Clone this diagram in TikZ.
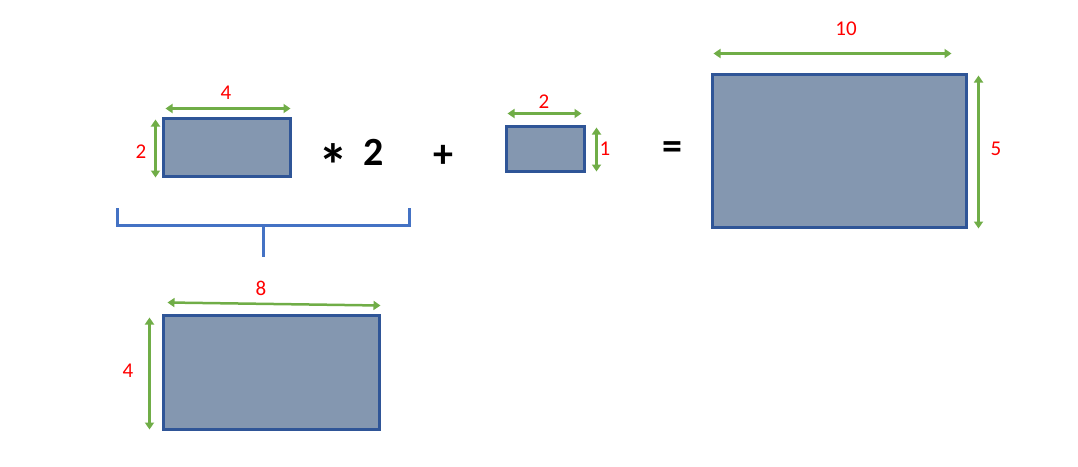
\documentclass[tikz,border=0pt]{standalone}
\usepackage{fontspec}
\setmainfont{Carlito}
\usetikzlibrary{arrows.meta}

\definecolor{boxfill}{HTML}{8497B0}
\definecolor{boxline}{HTML}{2F5597}
\definecolor{dimgreen}{HTML}{70AD47}
\definecolor{bracketblue}{HTML}{4472C4}

\begin{document}
\begin{tikzpicture}[x=1pt, y=-1pt,
  block/.style={draw=boxline, fill=boxfill, line width=3.5pt, rectangle, inner sep=0pt, outer sep=0pt},
  dim/.style={dimgreen, line width=2.5pt, {Triangle[width=9pt,length=7pt]}-{Triangle[width=9pt,length=7pt]}},
  dimlabel/.style={red, font=\fontsize{21}{25}\selectfont, inner sep=0pt},
  op/.style={font=\fontsize{40}{48}\selectfont\bfseries, inner sep=0pt},
  bracket/.style={draw=bracketblue, line width=3pt}]
\useasboundingbox (0,0) rectangle (1078,466);

% rectangles
\node (small) [block, minimum width=127pt, minimum height=58pt] at (227,147.5) {};
\node (unit) [block, minimum width=78pt, minimum height=45pt] at (545.5,149) {};
\node (result) [block, minimum width=254pt, minimum height=153pt] at (839.5,151) {};
\node (double) [block, minimum width=216pt, minimum height=114pt] at (271.5,372.5) {};

% operators
\node (times) [op, font=\fontsize{60}{70}\selectfont\bfseries] at (333,165) {*};
\node (factor) [op] at (374,152.5) {2};
\node (plus) [op] at (443,156) {+};
\node (equals) [op] at (672,151) {=};

% dimension arrows
\draw[dim] ([shift={(2,-10)}]small.north west) -- ([shift={(0,-10)}]small.north east);
\draw[dim] ([shift={(-8,1)}]small.north west) -- ([shift={(-8,1)}]small.south west);
\draw[dim] ([shift={(1,-13)}]unit.north west) -- ([shift={(-3,-13)}]unit.north east);
\draw[dim] ([shift={(12,1)}]unit.north east) -- ([shift={(12,0)}]unit.south east);
\draw[dim] ([shift={(1,-21)}]result.north west) -- ([shift={(-15,-21)}]result.north east);
\draw[dim] ([shift={(12,1)}]result.north east) -- ([shift={(12,1)}]result.south east);
\draw[dim] ([shift={(4,-13)}]double.north west) -- ([shift={(1,-10)}]double.north east);
\draw[dim] ([shift={(-14,2)}]double.north west) -- ([shift={(-14,0)}]double.south west);

% dimension labels
\node (smallw) [dimlabel] at (226,93) {4};
\node (smallh) [dimlabel] at (141,152) {2};
\node (unitw) [dimlabel] at (544,102) {2};
\node (unith) [dimlabel] at (605,149) {1};
\node (resultw) [dimlabel] at (846,29) {10};
\node (resulth) [dimlabel] at (996,149) {5};
\node (doublew) [dimlabel] at (261,288) {8};
\node (doubleh) [dimlabel] at (128,371) {4};

% bracket
\coordinate (brace) at (263,257);
\draw[bracket] (117,208) |- (409,225) -- (409,208);
\draw[bracket] (263,225) -- (brace);
\end{tikzpicture}
\end{document}
